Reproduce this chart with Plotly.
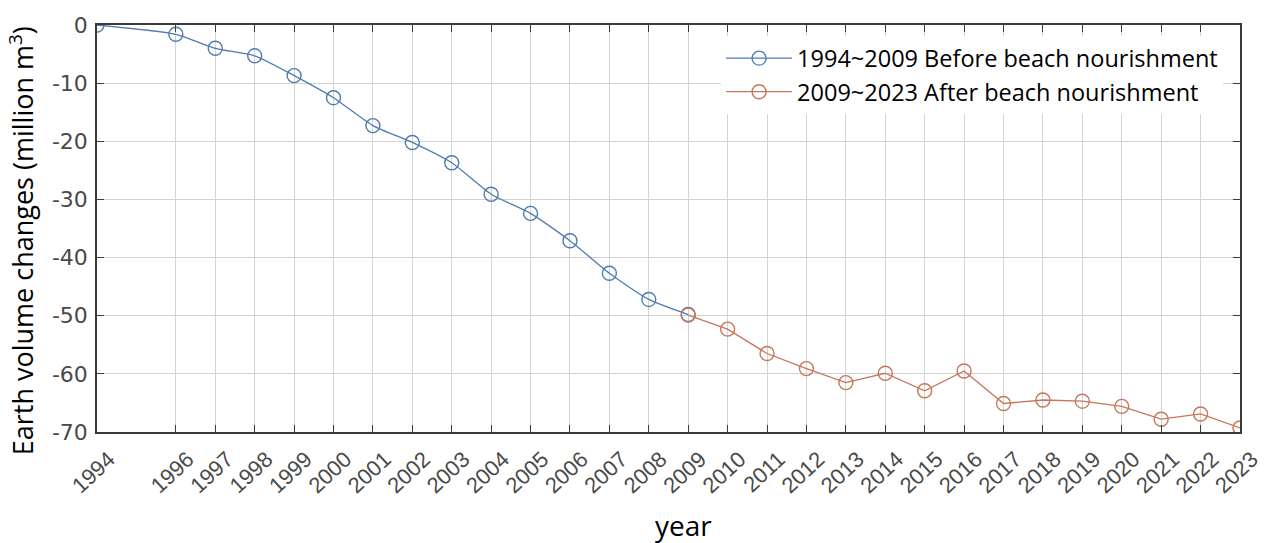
import plotly.graph_objects as go

years_before = [1994, 1996, 1997, 1998, 1999, 2000, 2001, 2002, 2003, 2004, 2005, 2006, 2007, 2008, 2009]
vol_before = [0, -1.6, -4.0, -5.3, -8.7, -12.5, -17.3, -20.2, -23.7, -29.1, -32.4, -37.1, -42.7, -47.2, -49.8]

years_after = [2009, 2010, 2011, 2012, 2013, 2014, 2015, 2016, 2017, 2018, 2019, 2020, 2021, 2022, 2023]
vol_after = [-49.9, -52.3, -56.5, -59.1, -61.5, -59.9, -62.9, -59.5, -65.1, -64.5, -64.7, -65.6, -67.8, -66.9, -69.3]

tick_years = [1994] + list(range(1996, 2024))
y_ticks = [0, -10, -20, -30, -40, -50, -60, -70]
y_tick_text = ["0", "-10", "-20", "-30", "-40", "-50", "-60", "-70"]

blue = "#4f7cb0"
red = "#c7765a"

fig = go.Figure()
fig.add_trace(go.Scatter(
    x=years_before, y=vol_before, mode="lines+markers",
    name="1994~2009 Before beach nourishment",
    line=dict(color=blue, width=1.3, shape="spline", smoothing=0.6),
    marker=dict(symbol="circle-open", size=14, color=blue, line=dict(width=1.4)),
))
fig.add_trace(go.Scatter(
    x=years_after, y=vol_after, mode="lines+markers",
    name="2009~2023 After beach nourishment",
    line=dict(color=red, width=1.3),
    marker=dict(symbol="circle-open", size=14, color=red, line=dict(width=1.4)),
))

fig.update_layout(
    width=1268, height=543,
    margin=dict(l=97, r=28, t=25, b=111, autoexpand=False),
    paper_bgcolor="white", plot_bgcolor="white",
    showlegend=True,
    legend=dict(
        x=0.546, y=0.972, xanchor="left", yanchor="top",
        bgcolor="white", borderwidth=0,
        font=dict(family="Open Sans", size=23.5, color="black"),
        itemwidth=66, tracegroupgap=0,
    ),
    xaxis=dict(
        range=[1994, 2023], tickmode="array", tickvals=tick_years,
        ticktext=[str(t) for t in tick_years], tickangle=-43,
        tickfont=dict(family="Liberation Sans", size=22, color="#4a4a4a"),
        ticklabelshift=12, ticklabelstandoff=4,
        showgrid=True, gridcolor="#d3d3d3", gridwidth=1,
        showline=True, linecolor="#3a3a3a", linewidth=1.5, mirror="ticks",
        ticks="inside", ticklen=7, tickcolor="#3a3a3a",
        zeroline=False, automargin=False,
    ),
    yaxis=dict(
        range=[-70, 0], tickmode="array", tickvals=y_ticks, ticktext=y_tick_text,
        tickfont=dict(family="DejaVu Sans", size=22, color="#4a4a4a"),
        ticklabelstandoff=3,
        showgrid=True, gridcolor="#d3d3d3", gridwidth=1,
        showline=True, linecolor="#3a3a3a", linewidth=1.5, mirror="ticks",
        ticks="inside", ticklen=7, tickcolor="#3a3a3a",
        zeroline=False, automargin=False,
    ),
    annotations=[
        dict(text="Earth volume changes (million m<sup>3</sup>)", textangle=-90,
             xref="paper", yref="paper", x=-0.066, y=0.47,
             xanchor="center", yanchor="middle", showarrow=False,
             font=dict(family="Open Sans", size=27, color="black")),
        dict(text="year", xref="paper", yref="paper", x=0.513, y=-0.2285,
             xanchor="center", yanchor="middle", showarrow=False,
             font=dict(family="Open Sans", size=28, color="black")),
    ],
)

fig.write_html("out.html", config={"displayModeBar": False},
               post_script="document.body.style.margin='0';document.body.style.overflow='hidden';")
